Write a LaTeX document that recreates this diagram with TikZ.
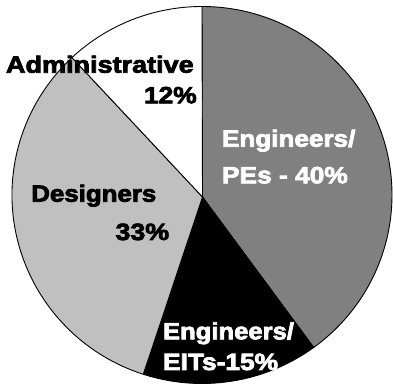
\documentclass[tikz,border=0pt]{standalone}
\usepackage{fontspec}
\usepackage{graphicx}
\setmainfont{Liberation Sans}[BoldFeatures={FakeBold=3}]
\definecolor{pegray}{HTML}{808080}
\definecolor{desgray}{HTML}{C0C0C0}
\tikzset{
  wedge/.style={draw=black, line width=0.9pt, line join=round},
  lbl/.style={anchor=base west, inner sep=0pt, outer sep=0pt,
    font=\fontsize{23.5}{26}\selectfont\bfseries},
}
\newcommand{\wx}[2]{\scalebox{#1}[1]{#2}}
\begin{document}
\begin{tikzpicture}[x=1pt,y=1pt]
\useasboundingbox (0,0) rectangle (393,385);
\coordinate (C) at (202,190);
\coordinate (apex) at (202.5,188);
% Engineers/PEs 40%
\filldraw[wedge, fill=pegray] (apex) -- ([shift={(90:190 and 188.5)}]C)
  arc[start angle=90, end angle=-54, x radius=190, y radius=188.5] -- cycle;
% Engineers/EITs 15%
\filldraw[wedge, fill=black] (apex) -- ([shift={(-54:190 and 188.5)}]C)
  arc[start angle=-54, end angle=-108, x radius=190, y radius=188.5] -- cycle;
% Designers 33%
\filldraw[wedge, fill=desgray] (apex) -- ([shift={(-108:190 and 188.5)}]C)
  arc[start angle=-108, end angle=-226.8, x radius=190, y radius=188.5] -- cycle;
% Administrative 12%
\filldraw[wedge, fill=white] (apex) -- ([shift={(133.2:190 and 188.5)}]C)
  arc[start angle=133.2, end angle=90, x radius=190, y radius=188.5] -- cycle;
% labels
\node[lbl] (adm) at (6,312.3) {\wx{1.15}{Administrative}};
\node[lbl] (admp) at (144,281.7) {\wx{1.12}{12\%}};
\node[lbl, text=white] (pe1) at (222,238.3) {\wx{1.11}{Engineers/}};
\node[lbl, text=white] (pe2) at (222,201.7) {\wx{1.12}{PEs - 40\%}};
\node[lbl] (des1) at (31.3,183.3) {\wx{1.10}{Designers}};
\node[lbl] (des2) at (115.5,145) {\wx{1.14}{33\%}};
\node[lbl, text=white] (eit1) at (163,45.7) {\wx{1.09}{Engineers/}};
\node[lbl, text=white] (eit2) at (163,15) {\wx{1.12}{EITs-15\%}};
\end{tikzpicture}
\end{document}
